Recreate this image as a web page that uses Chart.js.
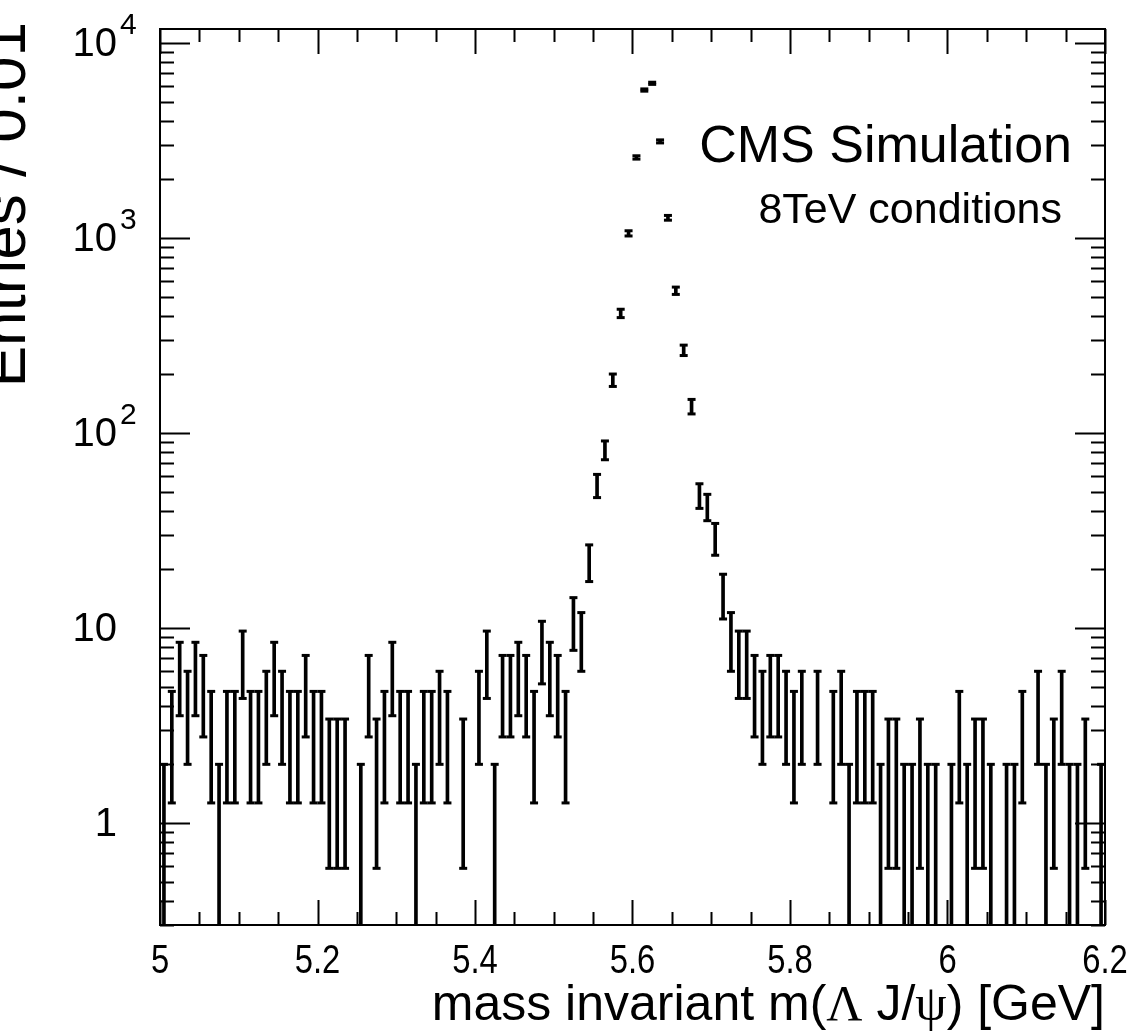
<!DOCTYPE html>
<html>
<head>
<meta charset="utf-8">
<script src="https://cdn.jsdelivr.net/npm/chart.js@4.4.1/dist/chart.umd.min.js"></script>
<style>
  html, body { margin: 0; padding: 0; background: #fff; }
  #wrap { width: 1131px; height: 1035px; }
</style>
</head>
<body>
<div id="wrap"><canvas id="massChart" width="1131" height="1035"></canvas></div>
<script>
// histogram: 120 bins of 0.01 GeV between 5.00 and 6.20
const xStart = 5.0;
const xEnd = 6.2;
const binWidth = 0.01;

// entries per bin
const entries = [
  1, 3, 6, 4, 6, 5, 3, 1, 3, 3,
  7, 3, 3, 4, 6, 4, 3, 3, 5, 3,
  3, 2, 2, 2, 0, 1, 5, 2, 3, 6,
  3, 3, 1, 3, 3, 4, 3, 0, 2, 0,
  4, 7, 1, 5, 5, 6, 5, 3, 8, 6,
  5, 3, 11, 9, 22, 54, 82, 187, 411, 1057,
  2590, 5740, 6215, 3130, 1270, 537, 266, 137, 48, 42,
  29, 15, 9, 7, 7, 5, 4, 5, 5, 4,
  3, 4, 0, 4, 0, 3, 4, 1, 3, 3,
  3, 1, 2, 2, 1, 1, 2, 1, 1, 0,
  1, 3, 1, 2, 2, 1, 0, 1, 1, 3,
  0, 4, 1, 2, 4, 1, 1, 2, 0, 1
];

// axis labels
const xTickValues = [5, 5.2, 5.4, 5.6, 5.8, 6, 6.2];
const xTickText = ['5', '5.2', '5.4', '5.6', '5.8', '6', '6.2'];
const yMin = 0.3;
const yMax = 11800;
const yMajorTicks = [1, 10, 100, 1000, 10000];
const yTickBase = ['1', '10', '10', '10', '10'];
const yTickExp = ['', '', '2', '3', '4'];

const FONT = "'Liberation Sans', Arial, Helvetica, sans-serif";
const SERIF = "'Liberation Serif', 'Times New Roman', serif";

// build floating bars (error bars) and caps from the counts
const errBars = [];
const errCaps = [];
entries.forEach((n, i) => {
  if (n <= 0) return;
  const x = xStart + (i + 0.5) * binWidth;
  const err = Math.sqrt(n);
  const lo = n - err;
  const hi = n + err;
  errBars.push({ x: x, y: [Math.max(lo, yMin), hi] });
  errCaps.push({ x: x, y: hi });
  if (lo > yMin) errCaps.push({ x: x, y: lo });
});

// frame, inward ticks, axis labels and texts
const rootFrame = {
  id: 'rootFrame',
  afterDraw(chart) {
    const { ctx, chartArea: a, scales: { x, y } } = chart;
    ctx.save();
    ctx.strokeStyle = '#000';
    ctx.fillStyle = '#000';

    // ticks
    ctx.lineWidth = 2;
    ctx.beginPath();
    for (let k = 0; k <= 24; k++) {
      const px = Math.round(x.getPixelForValue(xStart + k * 0.05)) + 0.5;
      const len = k % 4 === 0 ? 25 : 13;
      ctx.moveTo(px, a.bottom); ctx.lineTo(px, a.bottom - len);
      ctx.moveTo(px, a.top); ctx.lineTo(px, a.top + len);
    }
    for (let e = -1; e <= 4; e++) {
      for (let m = 1; m <= 9; m++) {
        const v = m * Math.pow(10, e);
        if (v <= yMin || v >= yMax) continue;
        const py = Math.round(y.getPixelForValue(v)) + 0.5;
        const len = m === 1 ? 30 : 14;
        ctx.moveTo(a.left, py); ctx.lineTo(a.left + len, py);
        ctx.moveTo(a.right, py); ctx.lineTo(a.right - len, py);
      }
    }
    ctx.stroke();

    // frame
    ctx.lineWidth = 2;
    ctx.strokeRect(a.left, a.top, a.right - a.left, a.bottom - a.top);

    // x tick labels (slightly condensed like the original)
    ctx.save();
    ctx.scale(0.82, 1);
    ctx.font = '40px ' + FONT;
    ctx.textAlign = 'center';
    ctx.textBaseline = 'middle';
    xTickValues.forEach((v, i) => {
      ctx.fillText(xTickText[i], x.getPixelForValue(v) / 0.82, 962);
    });
    ctx.restore();

    // y tick labels with exponents
    ctx.textBaseline = 'middle';
    yMajorTicks.forEach((v, i) => {
      const py = y.getPixelForValue(v);
      ctx.font = '40px ' + FONT;
      ctx.textAlign = 'right';
      ctx.fillText(yTickBase[i], 117, py + 2);
      if (yTickExp[i]) {
        ctx.font = '30px ' + FONT;
        ctx.textAlign = 'left';
        ctx.fillText(yTickExp[i], 120, py - 17);
      }
    });

    // y title (rotated, partly cut by the canvas edge)
    ctx.save();
    ctx.translate(25, 22);
    ctx.rotate(-Math.PI / 2);
    ctx.font = '62px ' + FONT;
    ctx.textAlign = 'right';
    ctx.textBaseline = 'alphabetic';
    ctx.fillText('Entries / 0.01', 0, 0);
    ctx.restore();

    // x title, mixed fonts, right aligned to the frame
    const parts = [
      ['mass invariant m(', FONT],
      ['\u039B', SERIF],
      [' J/', FONT],
      ['\u03C8', SERIF],
      [') [GeV]', FONT]
    ];
    let total = 0;
    parts.forEach(p => { ctx.font = '50px ' + p[1]; total += ctx.measureText(p[0]).width; });
    let tx = a.right - total;
    ctx.textAlign = 'left';
    ctx.textBaseline = 'alphabetic';
    parts.forEach(p => {
      ctx.font = '50px ' + p[1];
      ctx.fillText(p[0], tx, 1020);
      tx += ctx.measureText(p[0]).width;
    });

    // labels
    ctx.textAlign = 'right';
    ctx.font = '52px ' + FONT;
    ctx.fillText('CMS Simulation', 1072, 162);
    ctx.font = '43px ' + FONT;
    ctx.fillText('8TeV conditions', 1062, 223);
    ctx.restore();
  }
};

new Chart(document.getElementById('massChart').getContext('2d'), {
  type: 'bar',
  data: {
    datasets: [
      {
        type: 'bar',
        data: errBars,
        backgroundColor: '#000',
        borderWidth: 0,
        barThickness: 3,
        grouped: false
      },
      {
        type: 'scatter',
        data: errCaps,
        pointStyle: 'line',
        pointRadius: 4,
        pointHoverRadius: 4,
        pointBorderWidth: 3,
        borderColor: '#000',
        backgroundColor: '#000'
      }
    ]
  },
  options: {
    responsive: false,
    devicePixelRatio: 1,
    animation: false,
    events: [],
    layout: { padding: { left: 160, right: 26, top: 29, bottom: 110 } },
    plugins: { legend: { display: false }, tooltip: { enabled: false } },
    scales: {
      x: {
        type: 'linear',
        min: xStart,
        max: xEnd,
        offset: false,
        display: false
      },
      y: {
        type: 'logarithmic',
        min: yMin,
        max: yMax,
        display: false
      }
    }
  },
  plugins: [rootFrame]
});
</script>
</body>
</html>
